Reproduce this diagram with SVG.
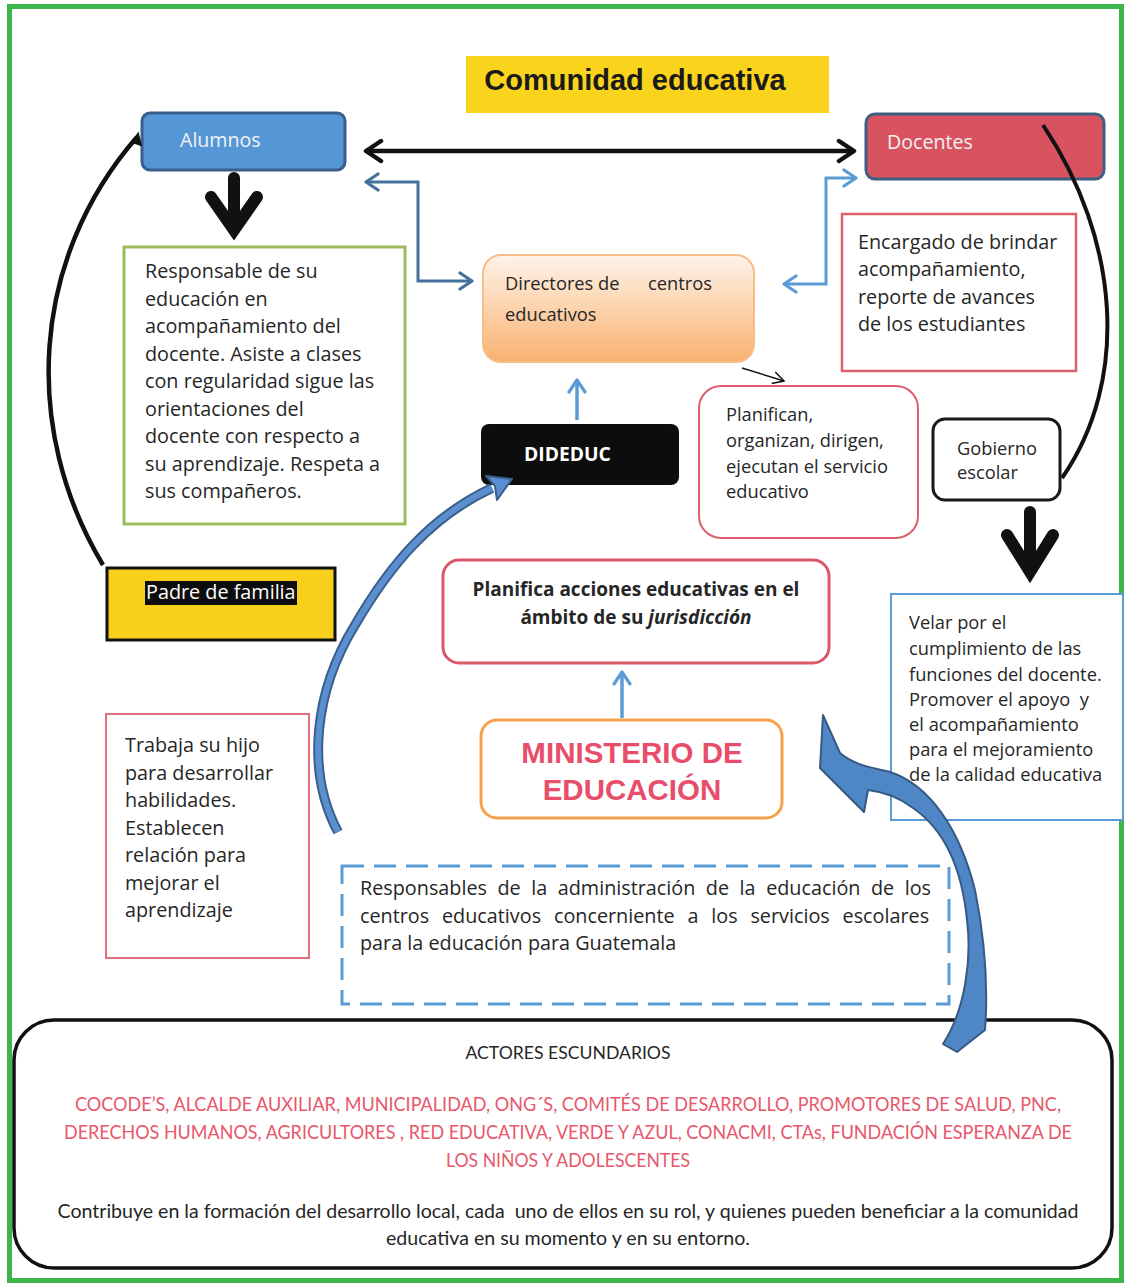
<svg xmlns="http://www.w3.org/2000/svg" width="1128" height="1288" viewBox="0 0 1128 1288">
<style>
.t{font-family:"Open Sans","Noto Sans",sans-serif;font-size:19.8px;fill:#262626}
.s{font-size:18.3px}
.w{fill:#f2f2f2;font-size:19.6px}
.b{font-weight:bold}
.pink{fill:#e8576c}
.c{font-family:Lato,"Open Sans",sans-serif}
.box{fill:#fff}
</style>
<defs>
<linearGradient id="gDir" x1="0" y1="0" x2="0" y2="1">
<stop offset="0" stop-color="#fff3ea"/>
<stop offset="0.5" stop-color="#fcd3ad"/>
<stop offset="1" stop-color="#f8b16e"/>
</linearGradient>
<marker id="mBlack" markerUnits="userSpaceOnUse" markerWidth="22" markerHeight="26" refX="18" refY="13" orient="auto-start-reverse">
<path d="M3,3 L18,13 L3,23" fill="none" stroke="#111" stroke-width="4.5" stroke-linecap="round" stroke-linejoin="round"/>
</marker>
<marker id="mDark" markerUnits="userSpaceOnUse" markerWidth="18" markerHeight="20" refX="15" refY="10" orient="auto-start-reverse">
<path d="M3,2 L15,10 L3,18" fill="none" stroke="#44709d" stroke-width="3.2" stroke-linecap="round" stroke-linejoin="round"/>
</marker>
<marker id="mLight" markerUnits="userSpaceOnUse" markerWidth="18" markerHeight="20" refX="15" refY="10" orient="auto-start-reverse">
<path d="M3,2 L15,10 L3,18" fill="none" stroke="#5b9bd5" stroke-width="3.2" stroke-linecap="round" stroke-linejoin="round"/>
</marker>
<marker id="mThin" markerUnits="userSpaceOnUse" markerWidth="14" markerHeight="14" refX="12" refY="7" orient="auto">
<path d="M1,1 L12,7 L1,13" fill="none" stroke="#111" stroke-width="1.5"/>
</marker>
</defs>

<rect x="9.5" y="6.5" width="1112" height="1274" fill="#fff" stroke="#3cb64a" stroke-width="5"/>

<g id="title">
<rect x="466" y="56" width="363" height="57" fill="#f9d31c"/>
<text x="635" y="90" text-anchor="middle" font-family="Liberation Sans,Arial,sans-serif" font-size="29" font-weight="bold" fill="#1a1a1a">Comunidad educativa</text>
</g>

<g id="alumnos">
<rect x="142" y="113" width="203" height="57" rx="8" fill="#5596d6" stroke="#3a5f8a" stroke-width="3"/>
<text class="t w" x="180" y="147">Alumnos</text>
</g>

<g id="docentes">
<rect x="866" y="114" width="238" height="65" rx="9" fill="#d8535f" stroke="#3f5f80" stroke-width="3"/>
<text class="t w" x="887" y="149">Docentes</text>
</g>

<g id="alumnos-desc">
<rect x="124" y="247" width="281" height="277" class="box" stroke="#9bbb59" stroke-width="3"/>
<text class="t" x="145" y="278">Responsable de su</text>
<text class="t" x="145" y="306">educación en</text>
<text class="t" x="145" y="333">acompañamiento del</text>
<text class="t" x="145" y="361">docente. Asiste a clases</text>
<text class="t" x="145" y="388">con regularidad sigue las</text>
<text class="t" x="145" y="416">orientaciones del</text>
<text class="t" x="145" y="443">docente con respecto a</text>
<text class="t" x="145" y="471">su aprendizaje. Respeta a</text>
<text class="t" x="145" y="498">sus compañeros.</text>
</g>

<g id="directores">
<rect x="483" y="255" width="271" height="107" rx="18" fill="url(#gDir)" stroke="#f6bd86" stroke-width="2"/>
<text class="t s" x="505" y="290" xml:space="preserve">Directores de      centros</text>
<text class="t s" x="505" y="321">educativos</text>
</g>

<g id="docentes-desc">
<rect x="842" y="214" width="234" height="157" class="box" stroke="#dd5f6e" stroke-width="2.5"/>
<text class="t" x="858" y="249">Encargado de brindar</text>
<text class="t" x="858" y="276">acompañamiento,</text>
<text class="t" x="858" y="304">reporte de avances</text>
<text class="t" x="858" y="331">de los estudiantes</text>
</g>

<g id="planifican">
<rect x="699" y="386" width="219" height="152" rx="22" class="box" stroke="#dd5f6e" stroke-width="2"/>
<text class="t s" x="726" y="421">Planifican,</text>
<text class="t s" x="726" y="447">organizan, dirigen,</text>
<text class="t s" x="726" y="473">ejecutan el servicio</text>
<text class="t s" x="726" y="498">educativo</text>
</g>

<g id="gobierno">
<rect x="933" y="419" width="127" height="81" rx="12" class="box" stroke="#1a1a1a" stroke-width="3"/>
<text class="t s" x="957" y="455">Gobierno</text>
<text class="t s" x="957" y="479">escolar</text>
</g>

<g id="dideduc">
<rect x="481" y="424" width="198" height="61" rx="8" fill="#0d0d0d"/>
<text class="t b" x="524" y="461" style="fill:#fff;font-size:19.3px">DIDEDUC</text>
</g>

<g id="padre">
<rect x="107" y="568" width="228" height="72" fill="#f8cf1d" stroke="#111" stroke-width="3"/>
<rect x="145" y="581" width="152" height="24" fill="#0d0d0d"/>
<text class="t" x="146" y="599" style="fill:#fff">Padre de familia</text>
</g>

<g id="planifica-acciones">
<rect x="443" y="560" width="386" height="103" rx="16" class="box" stroke="#d9596a" stroke-width="3"/>
<text class="t b" x="636" y="596" text-anchor="middle" style="font-size:19px">Planifica acciones educativas en el</text>
<text class="t b" x="636" y="624" text-anchor="middle" style="font-size:19px">ámbito de su <tspan font-style="italic">jurisdicción</tspan></text>
</g>

<g id="ministerio">
<rect x="481" y="720" width="301" height="98" rx="16" class="box" stroke="#f7a14b" stroke-width="3"/>
<text x="632" y="763" text-anchor="middle" font-family="Liberation Sans,Arial,sans-serif" font-size="29.5" font-weight="bold" fill="#e84d6a">MINISTERIO DE</text>
<text x="632" y="800" text-anchor="middle" font-family="Liberation Sans,Arial,sans-serif" font-size="29.5" font-weight="bold" fill="#e84d6a">EDUCACIÓN</text>
</g>

<g id="velar">
<rect x="891" y="594" width="232" height="226" class="box" stroke="#5b9bd5" stroke-width="2"/>
<text class="t s" x="909" y="629">Velar por el</text>
<text class="t s" x="909" y="655">cumplimiento de las</text>
<text class="t s" x="909" y="681">funciones del docente.</text>
<text class="t s" x="909" y="706" xml:space="preserve">Promover el apoyo  y</text>
<text class="t s" x="909" y="731">el acompañamiento</text>
<text class="t s" x="909" y="756">para el mejoramiento</text>
<text class="t s" x="909" y="781">de la calidad educativa</text>
</g>

<g id="trabaja">
<rect x="106" y="714" width="203" height="244" class="box" stroke="#e0707f" stroke-width="2"/>
<text class="t" x="125" y="752">Trabaja su hijo</text>
<text class="t" x="125" y="780">para desarrollar</text>
<text class="t" x="125" y="807">habilidades.</text>
<text class="t" x="125" y="835">Establecen</text>
<text class="t" x="125" y="862">relación para</text>
<text class="t" x="125" y="890">mejorar el</text>
<text class="t" x="125" y="917">aprendizaje</text>
</g>

<g id="responsables">
<rect x="342" y="866" width="607" height="138" fill="none" stroke="#5b9bd5" stroke-width="3" stroke-dasharray="22 10"/>
<text class="t" x="360" y="895" word-spacing="5.4">Responsables de la administración de la educación de los</text>
<text class="t" x="360" y="923" word-spacing="7.7">centros educativos concerniente a los servicios escolares</text>
<text class="t" x="360" y="950">para la educación para Guatemala</text>
</g>

<g id="actores">
<rect x="14" y="1020" width="1098" height="248" rx="40" fill="none" stroke="#111" stroke-width="3.5"/>
<text class="t c" x="568" y="1059" text-anchor="middle" style="font-size:17px" textLength="205" lengthAdjust="spacingAndGlyphs">ACTORES ESCUNDARIOS</text>
<text class="t c pink" x="568" y="1111" text-anchor="middle" style="font-size:19px" textLength="986" lengthAdjust="spacingAndGlyphs">COCODE’S, ALCALDE AUXILIAR, MUNICIPALIDAD, ONG´S, COMITÉS DE DESARROLLO, PROMOTORES DE SALUD, PNC,</text>
<text class="t c pink" x="568" y="1139" text-anchor="middle" style="font-size:19px" textLength="1008" lengthAdjust="spacingAndGlyphs">DERECHOS HUMANOS, AGRICULTORES , RED EDUCATIVA, VERDE Y AZUL, CONACMI, CTAs, FUNDACIÓN ESPERANZA DE</text>
<text class="t c pink" x="568" y="1167" text-anchor="middle" style="font-size:19px" textLength="244" lengthAdjust="spacingAndGlyphs">LOS NIÑOS Y ADOLESCENTES</text>
<text class="t c" x="568" y="1218" text-anchor="middle" style="font-size:19px" textLength="1021" lengthAdjust="spacingAndGlyphs" xml:space="preserve">Contribuye en la formación del desarrollo local, cada  uno de ellos en su rol, y quienes pueden beneficiar a la comunidad</text>
<text class="t c" x="568" y="1245" text-anchor="middle" style="font-size:19px" textLength="364" lengthAdjust="spacingAndGlyphs">educativa en su momento y en su entorno.</text>
</g>

<g id="connectors">
<line x1="366" y1="151" x2="854" y2="151" stroke="#111" stroke-width="4.5" marker-start="url(#mBlack)" marker-end="url(#mBlack)"/>
<path d="M366,182 L418,182 L418,281 L472,281" fill="none" stroke="#44709d" stroke-width="3" marker-start="url(#mDark)" marker-end="url(#mDark)"/>
<path d="M856,178 L826,178 L826,284 L784,284" fill="none" stroke="#5b9bd5" stroke-width="3" marker-start="url(#mLight)" marker-end="url(#mLight)"/>
<line x1="577" y1="420" x2="577" y2="380" stroke="#5b9bd5" stroke-width="3.5" marker-end="url(#mLight)"/>
<line x1="622" y1="718" x2="622" y2="672" stroke="#5b9bd5" stroke-width="3.5" marker-end="url(#mLight)"/>
<line x1="742" y1="368" x2="784" y2="381" stroke="#111" stroke-width="1.5" marker-end="url(#mThin)"/>
<path d="M103,565 C22,430 30,260 137,137" fill="none" stroke="#111" stroke-width="4.5"/>
<path d="M132,143 L138,134 L141,146" fill="#111" stroke="#111" stroke-width="2"/>
<path d="M1043,125 C1120,240 1130,380 1062,478" fill="none" stroke="#111" stroke-width="4"/>
<path d="M234,178 L234,226 M211,197 L234,230 L257,197" fill="none" stroke="#111" stroke-width="12" stroke-linecap="round" stroke-linejoin="miter"/>
<path d="M1030,512 L1030,568 M1007,535 L1030,572 L1053,535" fill="none" stroke="#111" stroke-width="12" stroke-linecap="round" stroke-linejoin="miter"/>
<path d="M338,832 C305,770 315,690 355,625 C390,565 430,517 492,488" fill="none" stroke="#3a5f8c" stroke-width="10"/>
<path d="M338,832 C305,770 315,690 355,625 C390,565 430,517 492,488" fill="none" stroke="#5b8fd0" stroke-width="6"/>
<path d="M512,479 L497,500 L495,486 L486,476 Z" fill="#5b8fd0" stroke="#3a5f8c" stroke-width="2" stroke-linejoin="round"/>
<path d="M823,715 L840,753 C855,766 875,768 890,772 C930,785 960,830 975,890 C985,940 988,990 985,1030 L957,1052 L943,1044 C965,1010 972,960 967,920 C962,870 945,830 913,808 C900,798 885,792 868,790 L864,812 L820,768 Z" fill="#4f86c6" stroke="#375a85" stroke-width="2" stroke-linejoin="round"/>
</g>
</svg>
